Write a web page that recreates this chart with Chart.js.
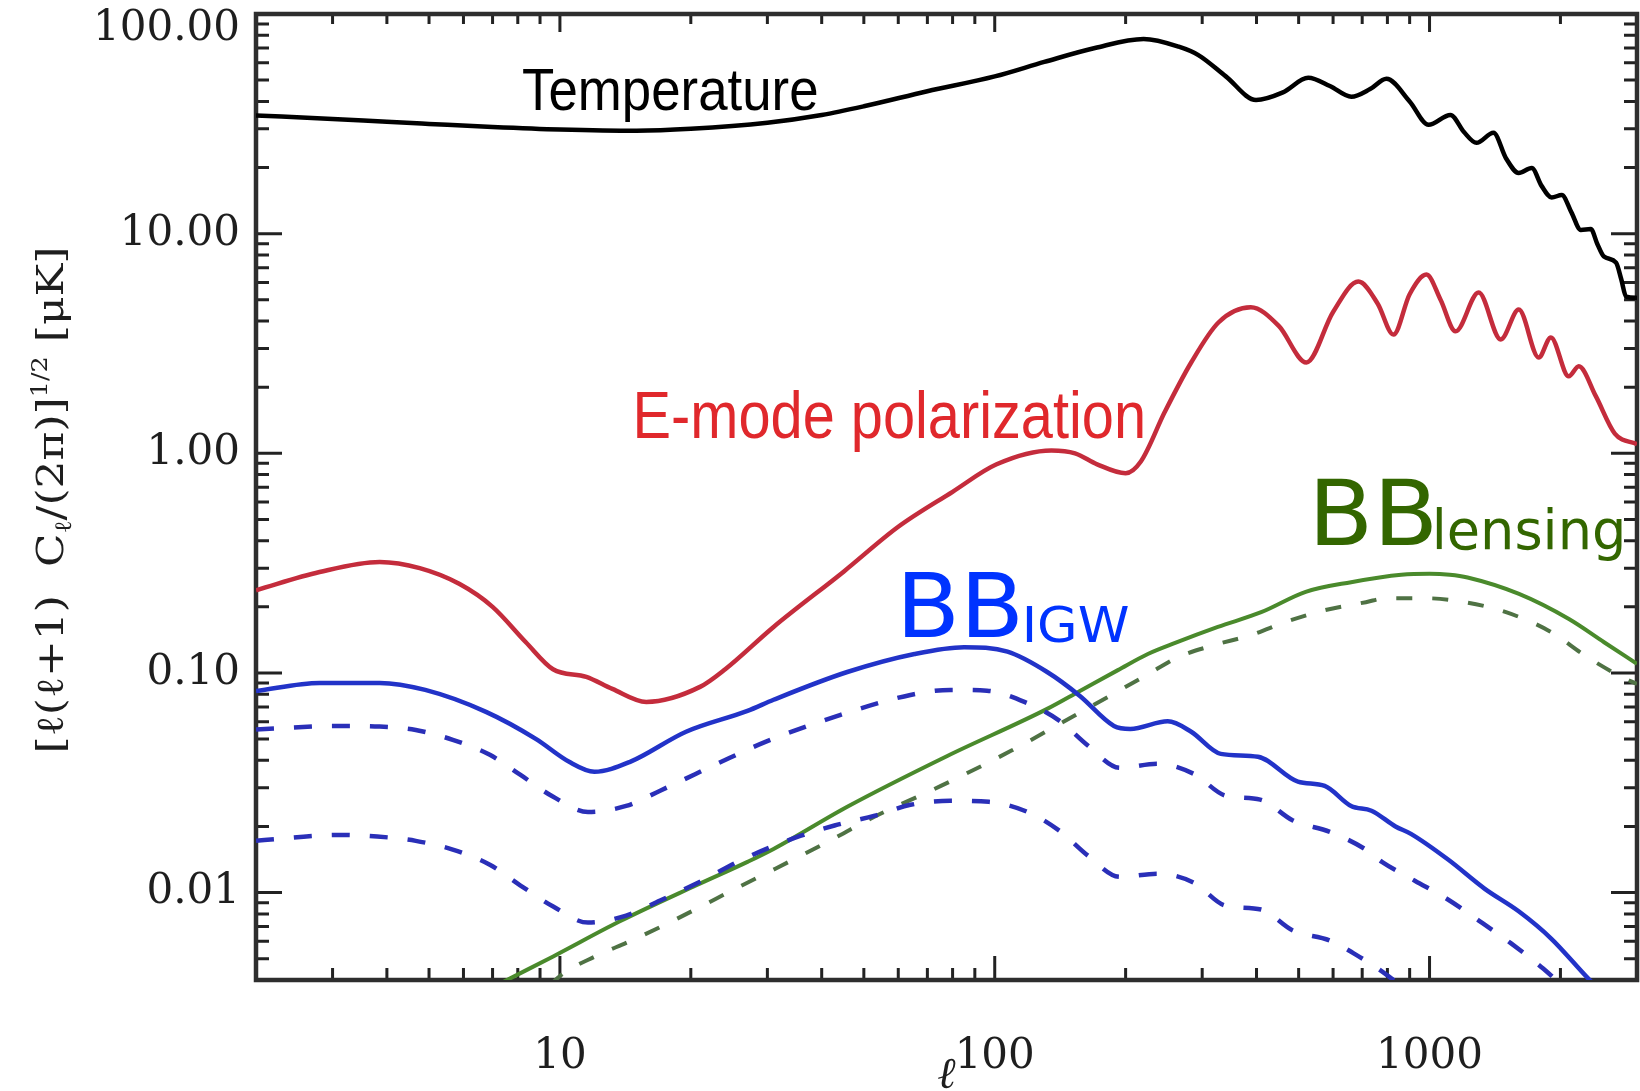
<!DOCTYPE html>
<html><head><meta charset="utf-8">
<script src="https://cdn.jsdelivr.net/npm/chart.js@4.4.1/dist/chart.umd.min.js"></script>
<style>html,body{margin:0;padding:0;background:#fff;}canvas{display:block;}</style>
</head><body>
<canvas id="c" width="1640" height="1091"></canvas>
<script>
// ---------- data (multipole l, amplitude in microK) ----------
const tempEll = [2, 3, 4, 5, 7, 10, 15, 20, 30, 40, 50, 70, 100, 130, 170, 220, 265, 294, 340, 399, 460, 526, 590, 661, 730, 796, 900, 995, 1117, 1200, 1282, 1403, 1500, 1603, 1718, 1810, 1910, 2014, 2120, 2228, 2349, 2430, 2518, 2685, 2760, 2831, 3000];
const tempVal = [34.5, 33.3, 32.3, 31.6, 30.6, 29.8, 29.4, 30.0, 32.0, 34.7, 38.0, 44.5, 52.0, 60.5, 70.0, 77.0, 71.0, 65.0, 52.0, 40.6, 44.0, 51.2, 47.0, 42.0, 45.5, 50.7, 40.0, 31.3, 34.7, 29.0, 25.9, 28.8, 22.0, 18.9, 19.9, 16.5, 14.6, 15.0, 12.5, 10.4, 10.5, 9.0, 7.86, 7.38, 6.2, 5.17, 5.1];

const eEll = [2, 2.8, 3.85, 4.76, 5.88, 7, 8.35, 9.64, 11.5, 13.2, 15.8, 21, 24, 31, 45, 60, 80, 101, 135, 153, 172, 200, 217, 246, 283, 327, 388, 450, 521, 600, 686, 760, 826, 900, 984, 1060, 1148, 1297, 1458, 1604, 1783, 1901, 2090, 2204, 2412, 2667, 3000];
const eVal = [0.238, 0.288, 0.32, 0.30, 0.254, 0.2, 0.138, 0.104, 0.096, 0.0846, 0.0738, 0.0864, 0.104, 0.162, 0.29, 0.463, 0.668, 0.891, 1.03, 1.0, 0.891, 0.811, 0.92, 1.54, 2.59, 3.94, 4.62, 3.8, 2.59, 4.4, 6.05, 4.8, 3.47, 5.3, 6.51, 5.0, 3.59, 5.39, 3.3, 4.51, 2.73, 3.37, 2.24, 2.49, 1.82, 1.23, 1.1];

const bbEll = [2, 2.8, 3.85, 4.9, 6.76, 8.8, 10.5, 12, 14.5, 19.5, 27, 31, 45.8, 65.4, 85, 107, 132, 157, 188, 205, 250, 283, 331, 403, 498, 574, 660, 735, 835, 906, 1105, 1340, 1606, 1904, 2318, 2700];
const bbVal = [0.0828, 0.0901, 0.0901, 0.0837, 0.0665, 0.0501, 0.0394, 0.0355, 0.0394, 0.054, 0.0672, 0.0755, 0.101, 0.122, 0.131, 0.125, 0.101, 0.0786, 0.0574, 0.0556, 0.0602, 0.054, 0.0428, 0.0415, 0.032, 0.0306, 0.0248, 0.0236, 0.02, 0.0185, 0.0141, 0.0104, 0.0082, 0.00618, 0.00406, 0.003];

const bbMidEll = [2, 3.1, 3.85, 4.66, 5.67, 6.9, 8.1, 9.65, 11.6, 14.2, 17, 24.6, 29.5, 43.5, 64, 79, 96, 117, 141, 164, 194, 237, 287, 340, 408, 485, 590, 710, 777, 927, 1093, 1298, 1540, 1825, 2200];
const bbMidVal = [0.0553, 0.0574, 0.057, 0.055, 0.0496, 0.0424, 0.0344, 0.0273, 0.0233, 0.0248, 0.0291, 0.0411, 0.0483, 0.0638, 0.0794, 0.0837, 0.083, 0.0738, 0.0605, 0.0466, 0.037, 0.0386, 0.0347, 0.0276, 0.0265, 0.0213, 0.0189, 0.0158, 0.0138, 0.0113, 0.0094, 0.00746, 0.00587, 0.00451, 0.0032];

const bbLowEll = [2, 3.1, 3.8, 4.66, 5.67, 6.9, 8.1, 9.65, 11.6, 14.2, 17, 20.6, 27, 35.7, 42.8, 53, 64, 79, 97, 119, 141, 164, 194, 237, 287, 339, 410, 485, 590, 700, 777, 900];
const bbLowVal = [0.0172, 0.0183, 0.018, 0.0172, 0.0157, 0.0134, 0.0108, 0.00864, 0.0073, 0.00786, 0.0092, 0.011, 0.0145, 0.0181, 0.0202, 0.0224, 0.0251, 0.0262, 0.0259, 0.0233, 0.0191, 0.0147, 0.0118, 0.0122, 0.0111, 0.00873, 0.00837, 0.00672, 0.00605, 0.00501, 0.00438, 0.0035];

const lensEll = [7.0, 7.67, 9.65, 13.7, 20.6, 27, 31, 45.8, 78, 132, 157, 192, 225, 260, 326, 410, 519, 660, 861, 1000, 1113, 1223, 1606, 2092, 2520, 3000];
const lensVal = [0.0037, 0.00406, 0.00512, 0.00738, 0.0108, 0.0138, 0.0158, 0.0246, 0.042, 0.0686, 0.0828, 0.103, 0.122, 0.137, 0.162, 0.189, 0.234, 0.259, 0.28, 0.283, 0.28, 0.272, 0.229, 0.176, 0.138, 0.11];

const lensAltEll = [9.5, 10.2, 12, 14.6, 17.6, 21.1, 25.3, 30.2, 36.5, 43.5, 51.8, 75.2, 109, 155, 222, 264, 320, 389, 472, 574, 714, 795, 966, 1174, 1499, 1888, 2278, 2734, 3000];
const lensAltVal = [0.0038, 0.0043, 0.0051, 0.00605, 0.0072, 0.00864, 0.0104, 0.0124, 0.015, 0.018, 0.0217, 0.0306, 0.0442, 0.0651, 0.097, 0.118, 0.134, 0.149, 0.172, 0.193, 0.21, 0.219, 0.219, 0.212, 0.189, 0.155, 0.12, 0.097, 0.089];

// ---------- axes ----------
const xMin = 2, xMax = 3000, yMin = 0.004, yMax = 100;
const xTickValues = [2,3,4,5,6,7,8,9,10,20,30,40,50,60,70,80,90,100,200,300,400,500,600,700,800,900,1000,2000];
const xLabelValues = [10, 100, 1000];
const xTickLabels = ['10', '100', '1000'];
const yTickValues = [0.004,0.005,0.006,0.007,0.008,0.009,0.01,0.02,0.03,0.04,0.05,0.06,0.07,0.08,0.09,0.1,0.2,0.3,0.4,0.5,0.6,0.7,0.8,0.9,1,2,3,4,5,6,7,8,9,10,20,30,40,50,60,70,80,90,100];
const yLabelValues = [0.01, 0.1, 1, 10, 100];
const yTickLabels = ['0.01', '0.10', '1.00', '10.00', '100.00'];

const isDecade = v => Math.abs(Math.log10(v) - Math.round(Math.log10(v))) < 1e-6;
const pts = (L, V) => L.map((l, i) => ({x: l, y: V[i]}));

const lineBase = {pointRadius: 0, fill: false, cubicInterpolationMode: 'monotone', borderCapStyle: 'butt', borderJoinStyle: 'round'};

// frame + inward ticks, IDL style (positions from the library scales)
const frameTicks = {
  id: 'frameTicks',
  beforeDatasetsDraw(chart) {
    const {ctx, chartArea: a, scales: {x, y}} = chart;
    ctx.save();
    ctx.strokeStyle = '#222';
    ctx.lineWidth = 3;
    ctx.beginPath();
    xTickValues.forEach(v => {
      const px = x.getPixelForValue(v);
      if (px <= a.left + 2 || px >= a.right - 2) return;
      const maj = isDecade(v);
      const lb = maj ? 24 : 12, lt = maj ? 18 : 10;
      ctx.moveTo(px, a.bottom); ctx.lineTo(px, a.bottom - lb);
      ctx.moveTo(px, a.top); ctx.lineTo(px, a.top + lt);
    });
    yTickValues.forEach(v => {
      const py = y.getPixelForValue(v);
      if (py <= a.top + 2 || py >= a.bottom - 2) return;
      const len = isDecade(v) ? 26 : 13;
      ctx.moveTo(a.left, py); ctx.lineTo(a.left + len, py);
      ctx.moveTo(a.right, py); ctx.lineTo(a.right - len, py);
    });
    ctx.stroke();
    ctx.lineWidth = 4.5;
    ctx.strokeStyle = '#2e2e2e';
    ctx.strokeRect(a.left, a.top, a.right - a.left, a.bottom - a.top);
    ctx.restore();
  }
};

// text annotations placed in data coordinates; ink box fitted between x0 and x1
const annotations = [
  {text: 'Temperature', family: '"Liberation Sans", Arial, sans-serif', size: 60, color: '#000000', x0: 8.22, x1: 38.9, yb: 36.6},
  {text: 'E-mode polarization', family: '"Liberation Sans", Arial, sans-serif', size: 66, color: '#e0282c', x0: 15.04, x1: 219, yb: 1.17},
  {text: 'BB', family: '"DejaVu Sans", sans-serif', size: 89, color: '#0033ff', x0: 62.0, x1: 113, yb: 0.1458},
  {text: 'IGW', family: '"DejaVu Sans", sans-serif', size: 50, color: '#0033ff', x0: 117.9, x1: 202.5, yb: 0.1384},
  {text: 'BB', family: '"DejaVu Sans", sans-serif', size: 91, color: '#336600', x0: 550, x1: 1011, yb: 0.382},
  {text: 'lensing', family: '"DejaVu Sans", sans-serif', size: 56, color: '#336600', x0: 1038, x1: 2770, yb: 0.366}
];

const textPlugin = {
  id: 'texts',
  afterDatasetsDraw(chart) {
    const {ctx, scales: {x, y}, chartArea: a} = chart;
    ctx.save();
    ctx.textAlign = 'left';
    ctx.textBaseline = 'alphabetic';
    annotations.forEach(an => {
      ctx.font = an.size + 'px ' + an.family;
      const m = ctx.measureText(an.text);
      const px0 = x.getPixelForValue(an.x0), px1 = x.getPixelForValue(an.x1);
      const pyb = y.getPixelForValue(an.yb);
      const inkW = m.actualBoundingBoxLeft + m.actualBoundingBoxRight;
      const sx = (px1 - px0) / inkW;
      ctx.save();
      ctx.translate(px0, pyb);
      ctx.scale(sx, 1);
      ctx.fillStyle = an.color;
      ctx.fillText(an.text, m.actualBoundingBoxLeft, 0);
      ctx.restore();
    });
    // y-axis title with sub/superscripts
    const fam = '"DejaVu Serif", serif';
    const base = 38;
    const parts = [
      {t: '[\u2113(\u2113+1)  C', s: 1, dy: 0},
      {t: '\u2113', s: 0.62, dy: 0.22},
      {t: '/(2\u03c0)]', s: 1, dy: 0},
      {t: '1/2', s: 0.58, dy: -0.42},
      {t: ' [\u03bcK]', s: 1, dy: 0}
    ];
    let total = 0;
    parts.forEach(p => { ctx.font = (base * p.s) + 'px ' + fam; p.w = ctx.measureText(p.t).width; total += p.w; });
    const targetLen = 507;
    const k = targetLen / total;
    const cy = (a.top + a.bottom) / 2 + 3;
    ctx.save();
    ctx.translate(63, cy);
    ctx.rotate(-Math.PI / 2);
    ctx.scale(k, 1);
    ctx.fillStyle = '#1e1e1e';
    let cx = -total / 2;
    parts.forEach(p => {
      ctx.font = (base * p.s) + 'px ' + fam;
      ctx.fillText(p.t, cx, p.dy * base);
      cx += p.w;
    });
    ctx.restore();
    // x-axis title
    ctx.font = 'italic 44px "DejaVu Serif", serif';
    ctx.fillStyle = '#1e1e1e';
    ctx.textAlign = 'center';
    ctx.fillText('\u2113', (a.left + a.right) / 2, 1088);
    ctx.restore();
  }
};

const chart = new Chart(document.getElementById('c'), {
  type: 'line',
  data: {
    datasets: [
      Object.assign({label: 'Temperature', data: pts(tempEll, tempVal), borderColor: '#000000', borderWidth: 4.5}, lineBase),
      Object.assign({label: 'E-mode polarization', data: pts(eEll, eVal), borderColor: '#c42c3c', borderWidth: 4.5}, lineBase),
      Object.assign({label: 'BB IGW', data: pts(bbEll, bbVal), borderColor: '#2233c8', borderWidth: 4.5}, lineBase),
      Object.assign({label: 'BB IGW (lower r)', data: pts(bbMidEll, bbMidVal), borderColor: '#2a2fb8', borderWidth: 4.5, borderDash: [18, 20]}, lineBase),
      Object.assign({label: 'BB IGW (lowest r)', data: pts(bbLowEll, bbLowVal), borderColor: '#2a2fb8', borderWidth: 4.5, borderDash: [18, 20]}, lineBase),
      Object.assign({label: 'BB lensing', data: pts(lensEll, lensVal), borderColor: '#4a8a2c', borderWidth: 4}, lineBase),
      Object.assign({label: 'BB lensing (alt)', data: pts(lensAltEll, lensAltVal), borderColor: '#4f7244', borderWidth: 4, borderDash: [16, 20]}, lineBase)
    ]
  },
  options: {
    responsive: false,
    animation: false,
    devicePixelRatio: 1,
    layout: {padding: {top: 14, right: 3, left: 0, bottom: 0}},
    plugins: {legend: {display: false}, tooltip: {enabled: false}, title: {display: false}},
    scales: {
      x: {
        type: 'logarithmic', position: 'bottom', min: xMin, max: xMax,
        afterBuildTicks: s => { s.ticks = xTickValues.map(v => ({value: v})); },
        afterFit: s => { s.height = 111; s.paddingLeft = 0; s.paddingRight = 0; },
        grid: {display: false}, border: {display: false},
        ticks: {
          autoSkip: false, maxRotation: 0, minRotation: 0, padding: 44, color: '#1e1e1e',
          font: {family: '"DejaVu Serif", serif', size: 42},
          callback: v => { const i = xLabelValues.indexOf(v); return i >= 0 ? xTickLabels[i] : null; }
        }
      },
      y: {
        type: 'logarithmic', position: 'left', min: yMin, max: yMax,
        afterBuildTicks: s => { s.ticks = yTickValues.map(v => ({value: v})); },
        afterFit: s => { s.width = 256; s.paddingTop = 0; s.paddingBottom = 0; },
        grid: {display: false}, border: {display: false},
        ticks: {
          autoSkip: false, padding: 8, color: '#1e1e1e',
          font: c => ({family: '"DejaVu Serif", serif', size: 42, lineHeight: (c.tick && c.tick.value === yMax) ? 0.72 : 1.2}),
          callback: v => {
            const i = yLabelValues.indexOf(v);
            if (i < 0) return null;
            return v === yMax ? ['', yTickLabels[i]] : yTickLabels[i];
          }
        }
      }
    }
  },
  plugins: [frameTicks, textPlugin]
});
</script>
</body></html>
